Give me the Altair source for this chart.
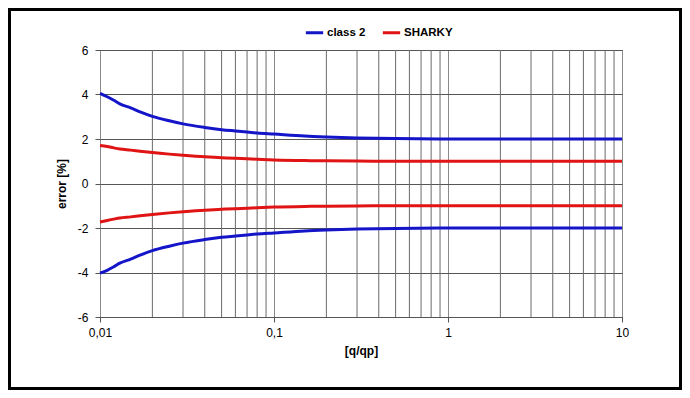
import altair as alt
import pandas as pd

# ---- data ----
q = [0.01, 0.011, 0.012, 0.013, 0.015, 0.017, 0.02, 0.025, 0.03, 0.04, 0.05,
     0.06, 0.07, 0.08, 0.1, 0.15, 0.2, 0.3, 0.5, 1, 2, 5, 10]
class2_upper = [4.05, 3.90, 3.74, 3.58, 3.40, 3.22, 3.02, 2.82, 2.68, 2.52, 2.42,
                2.36, 2.31, 2.27, 2.22, 2.13, 2.09, 2.05, 2.02, 2.0, 2.0, 2.0, 2.0]
class2_lower = [-4.03, -3.90, -3.74, -3.58, -3.40, -3.22, -3.02, -2.82, -2.68, -2.52, -2.42,
                -2.36, -2.31, -2.27, -2.22, -2.13, -2.09, -2.05, -2.02, -2.0, -2.0, -2.0, -2.0]
sharky_upper = [1.71, 1.66, 1.60, 1.55, 1.50, 1.45, 1.39, 1.32, 1.27, 1.20, 1.16,
                1.13, 1.11, 1.09, 1.06, 1.03, 1.02, 1.01, 1.0, 1.0, 1.0, 1.0, 1.0]
sharky_lower = [-1.73, -1.66, -1.60, -1.55, -1.50, -1.45, -1.39, -1.32, -1.27, -1.20, -1.16,
                -1.13, -1.11, -1.09, -1.06, -1.03, -1.02, -1.01, -1.0, -1.0, -1.0, -1.0, -1.0]

series_names = ["class 2", "SHARKY"]
series_colors = ["#1414C8", "#E01414"]
x_major = [0.01, 0.1, 1, 10]
x_major_labels = ["0,01", "0,1", "1", "10"]
y_ticks = [-6, -4, -2, 0, 2, 4, 6]
x_grid = [m * d for d in [0.01, 0.1, 1] for m in range(2, 10)]

rows = []
for name, bound, vals in [("class 2", "upper", class2_upper), ("class 2", "lower", class2_lower),
                          ("SHARKY", "upper", sharky_upper), ("SHARKY", "lower", sharky_lower)]:
    for xv, yv in zip(q, vals):
        rows.append({"q": xv, "err": yv, "series": name, "bound": name + bound})
df = pd.DataFrame(rows)

FONT = "Liberation Sans"
W, H = 522, 267
PAD = {"left": 92, "top": 42, "right": 60, "bottom": 73}

xscale = alt.Scale(type="log", domain=[0.01, 10], nice=False)
yscale = alt.Scale(domain=[-6, 6], nice=False)

label_expr = " : ".join(
    f"datum.value == {v} ? '{l}'" for v, l in zip(x_major, x_major_labels)
) + " : datum.label"

x_axis = alt.Axis(title="[q/qp]", values=x_major, labelExpr=label_expr,
                  grid=True, gridColor="#8a8a8a", tickSize=5, labelPadding=5,
                  titlePadding=7, domain=False, tickColor="#555", labelFlush=False)
y_axis = alt.Axis(title="error [%]", values=y_ticks, grid=True, gridColor="#555",
                  tickSize=5, labelPadding=7, titlePadding=9, domain=False,
                  tickColor="#555",
                  labelExpr="datum.value < 0 ? '-' + abs(datum.value) : '' + datum.value")

frame = alt.Chart(pd.DataFrame({"a": [0]})).mark_rect(
    fill="transparent", stroke="black", strokeWidth=3
).encode(
    x=alt.value(-90.5), x2=alt.value(580.5), y=alt.value(-40.5), y2=alt.value(338.5)
)

grid = alt.Chart(pd.DataFrame({"g": x_grid})).mark_rule(
    color="#6a6a6a", strokeWidth=1
).encode(x=alt.X("g:Q", scale=xscale, axis=x_axis))

lines = alt.Chart(df).mark_line(strokeWidth=3, interpolate="monotone").encode(
    x=alt.X("q:Q", scale=xscale, axis=x_axis),
    y=alt.Y("err:Q", scale=yscale, axis=y_axis),
    color=alt.Color("series:N",
                    scale=alt.Scale(domain=series_names, range=series_colors),
                    legend=alt.Legend(title=None, orient="none", direction="horizontal",
                                      legendX=204, legendY=-28, symbolType="stroke",
                                      symbolSize=300, symbolStrokeWidth=3,
                                      labelFontWeight="bold", labelFontSize=11.5,
                                      columnPadding=10, labelOffset=2)),
    detail="bound:N",
)

chart = alt.layer(frame, grid, lines).properties(
    width=W, height=H, padding=PAD,
    autosize=alt.AutoSizeParams(type="none"),
    background="white",
).configure_view(stroke="#333", strokeWidth=1).configure_axis(
    labelFont=FONT, titleFont=FONT, labelFontSize=12, titleFontSize=12,
    titleFontWeight="bold", labelColor="black", titleColor="black",
).configure_legend(labelFont=FONT)

chart.save("out.html", embed_options={"renderer": "svg", "actions": False})
